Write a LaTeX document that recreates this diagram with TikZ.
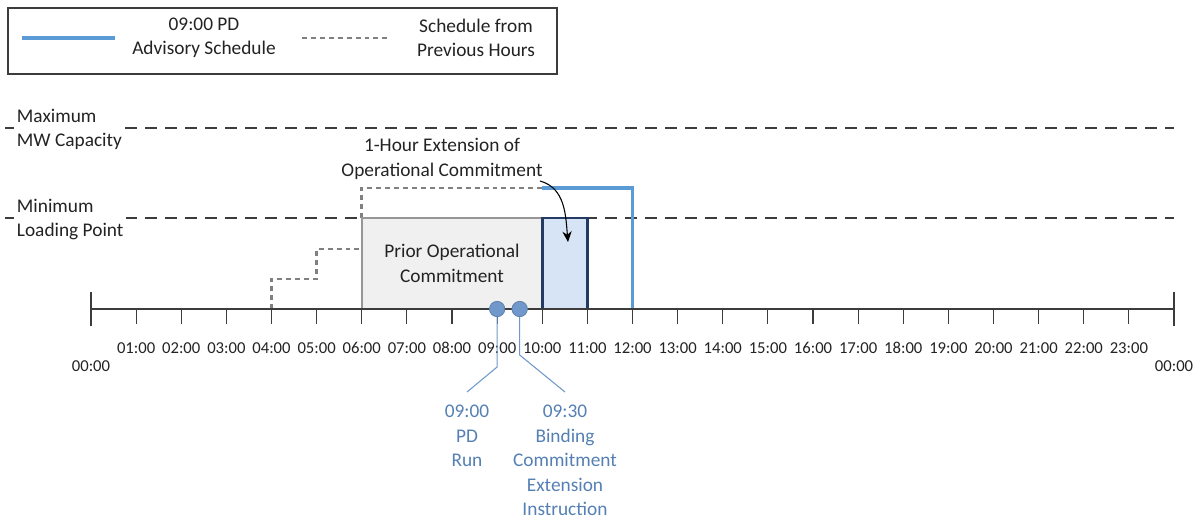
\documentclass[tikz,border=0pt]{standalone}
\usepackage{fontspec}
\setmainfont{Carlito}
\usepackage{tikz}
\usetikzlibrary{arrows.meta, positioning}
\definecolor{pdblue}{RGB}{91,155,213}
\definecolor{markblue}{RGB}{112,152,202}
\definecolor{labelblue}{RGB}{84,128,180}
\definecolor{extfill}{RGB}{214,228,245}
\definecolor{extnavy}{RGB}{34,58,100}
\definecolor{priorfill}{RGB}{240,240,240}
\definecolor{priorgray}{RGB}{150,150,150}
\definecolor{prevgray}{RGB}{128,128,128}
\definecolor{axisgray}{RGB}{60,60,60}
\definecolor{textgray}{RGB}{35,35,35}
\newcommand{\hpos}[1]{91+45.125*#1}
\tikzset{
  txt/.style={font=\fontsize{14.5}{18.4}\selectfont, text=textgray, align=center, inner sep=0pt},
  sidelabel/.style={txt, align=left, anchor=west, fill=white, inner xsep=2pt},
  ticklabel/.style={font=\fontsize{12.5}{15}\selectfont, text=textgray, inner sep=0pt},
  limitline/.style={dash pattern=on 9pt off 6pt, line width=1.2pt, color=axisgray},
  prevline/.style={dash pattern=on 3.7pt off 3pt, line width=2.1pt, color=prevgray},
  pdline/.style={line width=2.6pt, color=pdblue},
  axisline/.style={line width=0.9pt, color=axisgray},
  marker/.style={circle, fill=markblue, draw=markblue!85!black, line width=0.6pt,
    minimum size=11.5pt, inner sep=0pt},
  leader/.style={line width=0.8pt, color=markblue},
  bluetext/.style={txt, text=labelblue, anchor=north, inner ysep=9.5pt},
  extarrow/.style={-{Stealth[length=8pt, width=7pt]}, line width=0.8pt, color=black},
}

\begin{document}
\begin{tikzpicture}[x=0.75pt, y=-0.75pt]
  \useasboundingbox (0,0) rectangle (1202,521);
  % legend
  \node[draw=axisgray, fill=white, line width=0.9pt, minimum width=411.75pt,
        minimum height=49.5pt, inner sep=0pt] (legend) at (282.5,41) {};
  \coordinate (pdkeyA) at (22,38);
  \coordinate (pdkeyB) at (115,38);
  \draw[pdline] (pdkeyA) -- (pdkeyB);
  \node[txt] (pdkey) at (204,38) {09:00 PD\\Advisory Schedule};
  \coordinate (prevkeyA) at (302,38);
  \coordinate (prevkeyB) at (391,38);
  \draw[prevline] (prevkeyA) -- (prevkeyB);
  \node[txt] (prevkey) at (476,38) {Schedule from\\Previous Hours};

  % limits
  \draw[limitline] (5,128) -- (\hpos{24},128);
  \draw[limitline] (5,218) -- (\hpos{24},218);
  \node[sidelabel] (maxcap) at (14,129.5) {Maximum\\MW Capacity};
  \node[sidelabel] (minload) at (14,219.5) {Minimum\\Loading Point};

  % schedules
  \draw[prevline] (\hpos{4},309) |- (\hpos{5},279) |- (\hpos{6},249);
  \draw[prevline] (\hpos{6},218) |- (\hpos{10},188);
  \draw[fill=priorfill, draw=priorgray, line width=1.2pt] (\hpos{6},218) rectangle (\hpos{10},309);
  \node[txt] (prior) at (452,263.5) {Prior Operational\\Commitment};
  \draw[fill=extfill, draw=extnavy, line width=1.9pt] (\hpos{10},218) rectangle (\hpos{11},309);
  \coordinate (extbox) at (568,242);
  \draw[pdline] (\hpos{10},188) -| (\hpos{12},309);

  % axis
  \draw[axisline] (\hpos{0},309) -- (\hpos{24},309);
  \foreach \h in {1,...,23} {
    \draw[axisline] (\hpos{\h},309) -- ++(0,15);
    \node[ticklabel] at (\hpos{\h},348) {\ifnum\h<10 0\fi\h:00};
  }
  \draw[axisline] (\hpos{0},292) -- (\hpos{0},326);
  \draw[axisline] (\hpos{24},292) -- (\hpos{24},326);
  \node[ticklabel] (start) at (\hpos{0},366) {00:00};
  \node[ticklabel] (end) at (\hpos{24},366) {00:00};

  % extension
  \node[txt] (ext) at (442,159) {1-Hour Extension of\\Operational Commitment};
  \coordinate (extstart) at (540,181);
  \draw[extarrow] (extstart) to[out=-15, in=95] (extbox);

  % events
  \node[marker] (pdrun) at (\hpos{9},309) {};
  \node[marker] (binding) at (\hpos{9.5},309) {};
  \coordinate (pdbend) at (\hpos{9},367);
  \coordinate (bindbend) at (\hpos{9.5},355);
  \node[bluetext] (pdtext) at (467,392) {09:00\\PD\\Run};
  \node[bluetext] (bindtext) at (565,392) {09:30\\Binding\\Commitment\\Extension\\Instruction};
  \draw[leader] (pdrun) -- (pdbend) -- (pdtext.north);
  \draw[leader] (binding) -- (bindbend) -- (bindtext.north);
\end{tikzpicture}
\end{document}
